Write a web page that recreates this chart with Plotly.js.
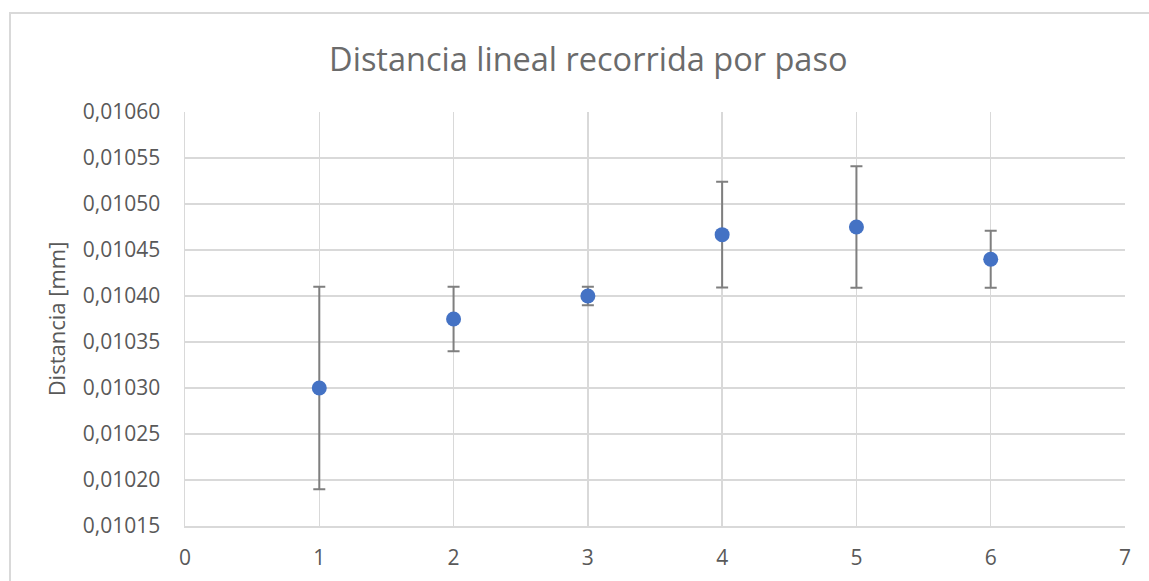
<!DOCTYPE html>
<html>
<head>
<meta charset="utf-8">
<script src="https://cdn.plot.ly/plotly-3.0.1.min.js"></script>
<style>
html, body { margin: 0; padding: 0; background: #fff; }
#chart { width: 1149px; height: 581px; }
</style>
</head>
<body>
<div id="chart"></div>
<script>
// Data
const pasos = [1, 2, 3, 4, 5, 6];
const distancia = [0.010300, 0.010375, 0.010400, 0.0104667, 0.010475, 0.010440];
const errorDistancia = [0.000110, 0.000035, 0.000010, 0.0000575, 0.000066, 0.000031];
const yTicks = [0.01015, 0.01020, 0.01025, 0.01030, 0.01035, 0.01040, 0.01045, 0.01050, 0.01055, 0.01060];
const xTicks = [0, 1, 2, 3, 4, 5, 6, 7];

const textColor = '#595959';
const gridColor = '#d9d9d9';
const fontFamily = '"Open Sans", "Noto Sans", sans-serif';

const trace = {
  x: pasos,
  y: distancia,
  type: 'scatter',
  mode: 'markers',
  marker: { color: '#4472C4', size: 15 },
  error_y: {
    type: 'data',
    array: errorDistancia,
    visible: true,
    color: '#7f7f7f',
    thickness: 2,
    width: 6
  },
  hoverinfo: 'x+y'
};

const layout = {
  width: 1149,
  height: 581,
  margin: { l: 185, r: 24, t: 112, b: 55 },
  paper_bgcolor: '#ffffff',
  plot_bgcolor: '#ffffff',
  separators: ',.',
  font: { family: fontFamily, color: textColor, size: 21 },
  showlegend: false,
  title: {
    text: 'Distancia lineal recorrida por paso',
    font: { family: fontFamily, size: 32.5, color: '#6b6b6b' },
    x: 0.512, xref: 'container', xanchor: 'center',
    y: 1 - 60 / 581, yref: 'container', yanchor: 'middle'
  },
  xaxis: {
    range: [0, 7],
    tickvals: xTicks,
    ticktext: xTicks.map(String),
    showgrid: true,
    gridcolor: gridColor,
    gridwidth: 1.5,
    zeroline: false,
    showline: true,
    linecolor: gridColor,
    linewidth: 1.5,
    ticks: '',
    ticklabelstandoff: 12,
    tickfont: { size: 21, color: textColor }
  },
  yaxis: {
    range: [0.01015, 0.01060],
    tickvals: yTicks,
    tickformat: '.5f',
    showgrid: true,
    gridcolor: gridColor,
    gridwidth: 1.5,
    zeroline: false,
    showline: true,
    linecolor: gridColor,
    linewidth: 1.5,
    ticks: '',
    ticklabelstandoff: 19,
    tickfont: { size: 21, color: textColor },
    title: {
      text: 'Distancia [mm]',
      font: { size: 22, color: textColor },
      standoff: 11
    }
  },
  shapes: [{
    type: 'rect',
    xref: 'paper', yref: 'paper',
    x0: (10 - 185) / 940, x1: 1.2,
    y0: -0.3, y1: (526 - 13) / 414,
    line: { color: gridColor, width: 2 },
    fillcolor: 'rgba(0,0,0,0)',
    layer: 'below'
  }]
};

Plotly.newPlot('chart', [trace], layout, { displayModeBar: false, staticPlot: true });
</script>
</body>
</html>
